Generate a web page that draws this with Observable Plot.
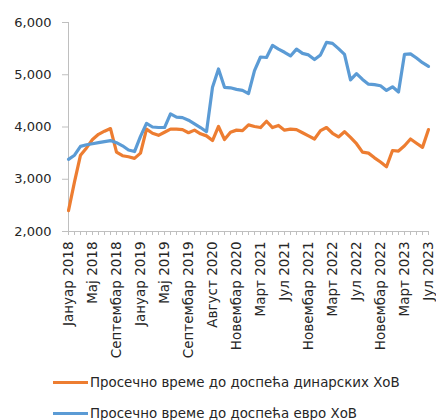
<!DOCTYPE html>
<html><head><meta charset="utf-8">
<script src="https://cdn.jsdelivr.net/npm/d3@7"></script>
<script src="https://cdn.jsdelivr.net/npm/@observablehq/plot@0.6"></script>
<style>
body{margin:0;background:#fff;font-family:"DejaVu Sans",sans-serif;color:#262626;}
#legend{margin-top:5px;padding-left:53px;}
.row{display:flex;align-items:center;height:31px;font-size:13.4px;}
.sw{width:35px;height:3px;margin-right:2px;}
</style></head><body><div id="chart"></div><div id="legend"></div><script>
const tickLabels = ["Јануар 2018","Мај 2018","Септембар 2018","Јануар 2019","Мај 2019","Септембар 2019","Август 2020","Новембар 2020","Март 2021","Јул 2021","Новембар 2021","Март 2022","Јул 2022","Новембар 2022","Март 2023","Јул 2023"];
const dinar = [2400,2950,3460,3600,3760,3860,3920,3970,3520,3450,3430,3400,3500,3960,3880,3840,3900,3960,3960,3950,3890,3940,3870,3830,3740,4010,3760,3900,3940,3930,4040,4010,3990,4110,3990,4030,3940,3960,3950,3890,3830,3770,3930,3990,3880,3810,3910,3800,3680,3520,3500,3410,3330,3240,3550,3540,3640,3770,3690,3610,3950];
const euro = [3380,3460,3630,3660,3680,3700,3720,3740,3700,3640,3560,3530,3820,4070,4000,3990,3990,4250,4190,4180,4130,4060,3990,3910,4760,5110,4760,4750,4720,4700,4640,5080,5340,5330,5560,5490,5430,5360,5490,5410,5380,5290,5380,5620,5600,5500,5390,4900,5020,4910,4820,4810,4790,4700,4770,4670,5390,5400,5320,5230,5160];
const seriesNames = ["Просечно време до доспећа динарских ХоВ","Просечно време до доспећа евро ХоВ"];
const colors = ["#ED7D31","#5B9BD5"];
const yTicks = [2000,3000,4000,5000,6000];
const labelStep = 4;

const n = dinar.length;
const gray = "#bfbfbf";
const chart = Plot.plot({
  width: 436, height: 362,
  marginLeft: 68, marginRight: 8, marginTop: 22, marginBottom: 131,
  style: {fontFamily: "DejaVu Sans, sans-serif", color: "#262626", background: "#fff"},
  x: {domain: [0, n - 1]},
  y: {domain: [2000, 6000]},
  marks: [
    Plot.axisY({ticks: yTicks, tickFormat: d3.format(","), tickSize: 6, tickPadding: 11, fontSize: 13, stroke: gray, label: null}),
    Plot.axisX({ticks: d3.range(n), tickSize: 4, tickFormat: () => "", stroke: gray, label: null}),
    Plot.axisX({ticks: tickLabels.map((_, i) => i * labelStep), tickFormat: d => tickLabels[d / labelStep], tickSize: 0, tickPadding: 10, tickRotate: -90, fontSize: 13.5, label: null}),
    Plot.ruleY([2000], {stroke: gray}),
    Plot.ruleX([0], {stroke: gray}),
    Plot.line(dinar, {x: (d, i) => i, y: d => d, stroke: colors[0], strokeWidth: 3.2}),
    Plot.line(euro, {x: (d, i) => i, y: d => d, stroke: colors[1], strokeWidth: 3.2})
  ]
});
document.getElementById("chart").append(chart);
const leg = document.getElementById("legend");
seriesNames.forEach((s, i) => {
  const r = document.createElement("div"); r.className = "row";
  const sw = document.createElement("div"); sw.className = "sw"; sw.style.background = colors[i];
  const t = document.createElement("span"); t.textContent = s;
  r.append(sw, t); leg.append(r);
});
</script></body></html>
